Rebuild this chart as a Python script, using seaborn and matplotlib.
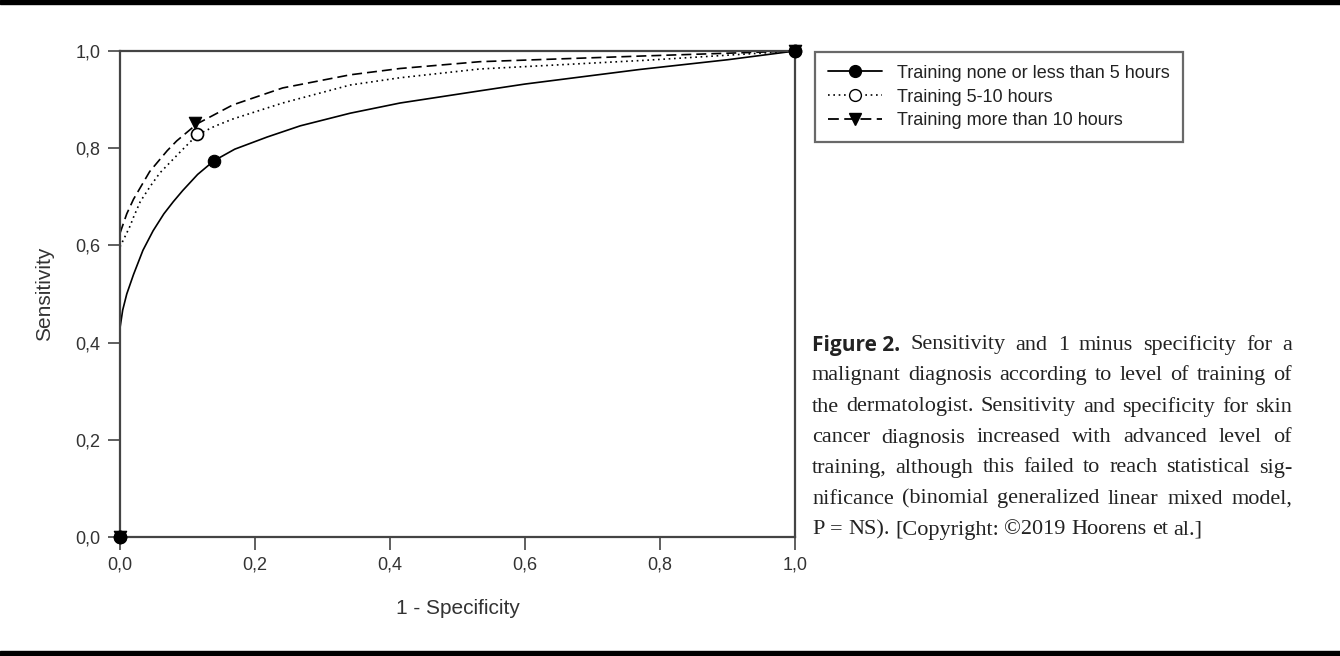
import numpy as np
import pandas as pd
import matplotlib
matplotlib.use("Agg")
import matplotlib.pyplot as plt
import seaborn as sns
from matplotlib.lines import Line2D
from matplotlib.patches import Rectangle

# ─── DATA ───────────────────────────────────────────────────────────────────
GROUPS = ["Training none or less than 5 hours",
          "Training 5-10 hours",
          "Training more than 10 hours"]

# fitted ROC curves
fpr_none = [0.0, 0.004, 0.01, 0.02, 0.034, 0.049, 0.065, 0.079, 0.093, 0.115,
            0.139, 0.17, 0.218, 0.267, 0.341, 0.415, 0.533, 0.6, 0.77, 0.9, 1.0]
tpr_none = [0.43, 0.467, 0.50, 0.54, 0.59, 0.63, 0.665, 0.69, 0.713, 0.746,
            0.774, 0.798, 0.823, 0.846, 0.872, 0.893, 0.918, 0.932, 0.962, 0.982, 1.0]

fpr_mid = [0.0, 0.007, 0.015, 0.02, 0.03, 0.045, 0.059, 0.089, 0.114, 0.14,
           0.167, 0.241, 0.341, 0.415, 0.533, 0.78, 1.0]
tpr_mid = [0.597, 0.617, 0.64, 0.658, 0.69, 0.722, 0.749, 0.792, 0.827, 0.845,
           0.86, 0.893, 0.930, 0.945, 0.963, 0.981, 1.0]

fpr_high = [0.0, 0.01, 0.02, 0.044, 0.07, 0.084, 0.114, 0.167, 0.241, 0.341,
            0.415, 0.533, 0.78, 1.0]
tpr_high = [0.625, 0.665, 0.695, 0.752, 0.795, 0.815, 0.85, 0.889, 0.924, 0.951,
            0.964, 0.978, 0.99, 1.0]

# observed operating points
pts_x_none = [0.0, 0.139, 1.0]
pts_y_none = [0.0, 0.774, 1.0]
pts_x_mid = [0.0, 0.114, 1.0]
pts_y_mid = [0.0, 0.829, 1.0]
pts_x_high = [0.0, 0.111, 1.0]
pts_y_high = [0.0, 0.852, 1.0]

TICKS = [0.0, 0.2, 0.4, 0.6, 0.8, 1.0]
TICK_LABELS = ["0,0", "0,2", "0,4", "0,6", "0,8", "1,0"]

CAPTION_LINES = [
    "Sensitivity and 1 minus specificity for a",
    "malignant diagnosis according to level of training of",
    "the dermatologist. Sensitivity and specificity for skin",
    "cancer diagnosis increased with advanced level of",
    "training, although this failed to reach statistical sig-",
    "nificance (binomial generalized linear mixed model,",
    "P = NS). [Copyright: \u00a92019 Hoorens et al.]",
]
# ─────────────────────────────────────────────────────────────────────────────

sns.set_style("white")
plt.rcParams["font.family"] = ["Liberation Sans", "DejaVu Sans"]

W, H = 1340, 656
fig = plt.figure(figsize=(W / 100, H / 100), dpi=100)
ax = fig.add_axes([120 / W, 1 - 537 / H, 675 / W, 486 / H])

curves = pd.concat([
    pd.DataFrame({"fpr": fpr_none, "tpr": tpr_none, "group": GROUPS[0]}),
    pd.DataFrame({"fpr": fpr_mid, "tpr": tpr_mid, "group": GROUPS[1]}),
    pd.DataFrame({"fpr": fpr_high, "tpr": tpr_high, "group": GROUPS[2]}),
], ignore_index=True)

dashes = {GROUPS[0]: "", GROUPS[1]: (1, 2.2), GROUPS[2]: (6, 3)}
sns.lineplot(data=curves, x="fpr", y="tpr", style="group", dashes=dashes,
             color="black", linewidth=1.2, estimator=None, sort=False,
             legend=False, ax=ax)

sns.scatterplot(x=pts_x_high, y=pts_y_high, marker="v", color="black",
                s=80, edgecolor="black", linewidth=0.8, ax=ax, clip_on=False, zorder=4)
sns.scatterplot(x=pts_x_mid, y=pts_y_mid, marker="o", facecolor="white",
                s=75, edgecolor="black", linewidth=1.2, ax=ax, clip_on=False, zorder=5)
sns.scatterplot(x=pts_x_none, y=pts_y_none, marker="o", color="black",
                s=80, edgecolor="black", linewidth=0.8, ax=ax, clip_on=False, zorder=6)

ax.set_xlim(0, 1)
ax.set_ylim(0, 1)
ax.set_xticks(TICKS)
ax.set_xticklabels(TICK_LABELS)
ax.set_yticks(TICKS)
ax.set_yticklabels(TICK_LABELS)
ax.tick_params(direction="out", length=9, width=1.2, color="#444444",
               labelsize=13, labelcolor="#333333", pad=5,
               bottom=True, left=True, top=False, right=False)
for sp in ax.spines.values():
    sp.set_color("#444444")
    sp.set_linewidth(1.6)

ax.set_xlabel("1 - Specificity", fontsize=15, color="#333333")
ax.set_ylabel("Sensitivity", fontsize=15, color="#333333")
ax.xaxis.set_label_coords(0.5, -0.128)
ax.yaxis.set_label_coords(-0.097, 0.5)

# legend
handles = [
    Line2D([], [], color="black", lw=1.3, ls="-", marker="o", ms=8.5,
           mfc="black", mec="black"),
    Line2D([], [], color="black", lw=1.2, ls=(0, (1, 2.2)), marker="o", ms=8.5,
           mfc="white", mec="black"),
    Line2D([], [], color="black", lw=1.3, ls=(0, (6, 3)), marker="v", ms=8.5,
           mfc="black", mec="black"),
]
leg = fig.legend(handles, GROUPS, loc="upper left",
                 bbox_to_anchor=(815 / W, 1 - 52 / H),
                 fontsize=13, frameon=True, fancybox=False,
                 handlelength=3.0, handletextpad=0.85, labelspacing=0.38,
                 borderpad=0.7, borderaxespad=0)
leg.get_frame().set_edgecolor("#444444")
leg.get_frame().set_linewidth(1.6)
for t in leg.get_texts():
    t.set_color("#222222")

# caption, justified
X0, X1 = 812, 1292
LINE_Y = [345, 376, 407, 438, 468, 499, 530]
renderer = fig.canvas.get_renderer()
serif = dict(family=["Liberation Serif", "DejaVu Serif"], fontsize=16, color="#222222")
bold = dict(family=["Open Sans", "DejaVu Sans"], fontsize=15, fontweight="bold", color="#222222")

for i, line in enumerate(CAPTION_LINES):
    y = 1 - LINE_Y[i] / H
    tokens = [(w, serif) for w in line.split(" ")]
    if i == 0:
        tokens = [("Figure 2.", bold)] + tokens
    texts = [fig.text(0, y, w, va="center", ha="left", **kw) for w, kw in tokens]
    widths = [t.get_window_extent(renderer).width for t in texts]
    if i < len(CAPTION_LINES) - 1:
        gap = (X1 - X0 - sum(widths)) / (len(texts) - 1)
    else:
        gap = 5.5
    x = X0
    for t, w in zip(texts, widths):
        t.set_x(x / W)
        x += w + gap

# black bands top and bottom
fig.patches.append(Rectangle((0, 1 - 4 / H), 1, 4 / H, transform=fig.transFigure,
                             color="black", zorder=10))
fig.patches.append(Rectangle((0, 0), 1, 5 / H, transform=fig.transFigure,
                             color="black", zorder=10))

fig.savefig("out.png", dpi=100)
